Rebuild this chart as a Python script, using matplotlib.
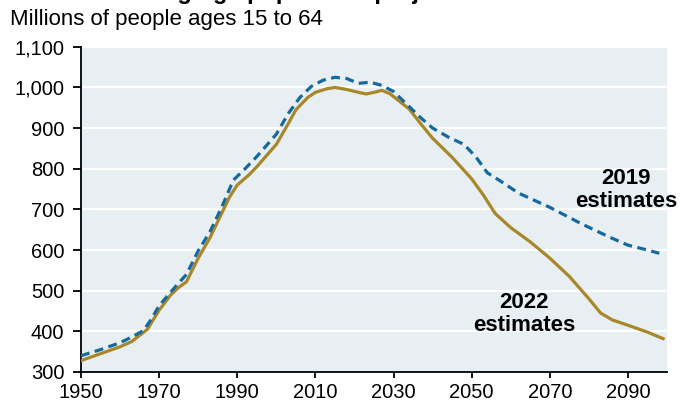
import matplotlib.pyplot as plt
import matplotlib.ticker as mticker

plt.rcParams['font.family'] = ['Liberation Sans', 'DejaVu Sans']

# 2022 estimates (millions, ages 15-64)
years22 = [1950, 1955, 1960, 1963, 1965, 1967, 1970, 1973, 1975, 1977, 1980, 1983, 1985, 1988,
           1990, 1993, 1995, 2000, 2003, 2005, 2008, 2010, 2013, 2015, 2018, 2021, 2023, 2025,
           2027, 2029, 2031, 2034, 2037, 2040, 2045, 2050, 2053, 2056, 2060, 2065, 2070, 2075,
           2080, 2083, 2086, 2090, 2095, 2099]
est22 = [328, 345, 362, 375, 390, 405, 452, 490, 508, 522, 580, 630, 670, 730,
         760, 785, 805, 860, 910, 945, 975, 988, 997, 1000, 995, 988, 984, 988,
         993, 985, 970, 947, 910, 875, 828, 775, 735, 690, 655, 620, 580, 535,
         480, 445, 428, 415, 398, 382]

# 2019 estimates
years19 = [1950, 1955, 1960, 1963, 1966, 1968, 1970, 1974, 1977, 1980, 1983, 1986, 1989, 1992,
           1995, 2000, 2003, 2006, 2009, 2012, 2015, 2018, 2021, 2024, 2027, 2030, 2034, 2037,
           2040, 2044, 2048, 2051, 2054, 2057, 2062, 2070, 2078, 2085, 2090, 2095, 2098]
est19 = [340, 355, 372, 386, 402, 430, 463, 508, 540, 598, 645, 705, 772, 800,
         830, 885, 935, 975, 1003, 1018, 1025, 1022, 1010, 1013, 1005, 990, 953, 925,
         900, 878, 860, 830, 790, 772, 740, 705, 665, 633, 612, 600, 592]

xticks = [1950, 1970, 1990, 2010, 2030, 2050, 2070, 2090]
yticks = [300, 400, 500, 600, 700, 800, 900, 1000, 1100]

gold = '#A8872B'
blue = '#17699B'

fig = plt.figure(figsize=(6.92, 4.07), dpi=100)
ax = fig.add_axes([0.117, 0.086, 0.847, 0.799])
ax.set_facecolor('#E7EFF2')

ax.plot(years22, est22, color=gold, lw=2.3, solid_joinstyle='round', zorder=3)
ax.plot(years19, est19, color=blue, lw=2.3, dashes=(2.8, 1.7), zorder=4)

ax.set_xlim(1950, 2100)
ax.set_ylim(300, 1100)
ax.set_xticks(xticks)
ax.set_yticks(yticks)
ax.yaxis.set_major_formatter(mticker.StrMethodFormatter('{x:,.0f}'))
ax.tick_params(labelsize=14.5, length=6, width=1.3, direction='out')
ax.tick_params(axis='y', pad=6)
ax.tick_params(axis='x', length=4, pad=4)
ax.yaxis.grid(True, color='white', lw=1.6)
ax.set_axisbelow(True)
for s in ['top', 'right']:
    ax.spines[s].set_visible(False)
for s in ['left', 'bottom']:
    ax.spines[s].set_linewidth(1.3)

ax.text(2089.5, 748, '2019\nestimates', ha='center', va='center', fontsize=16,
        fontweight='bold', linespacing=1.15)
ax.text(2063.5, 442, '2022\nestimates', ha='center', va='center', fontsize=16,
        fontweight='bold', linespacing=1.15)

fig.text(0.014, 1.003, "China's working-age population projections", fontsize=17,
         fontweight='bold', va='baseline', ha='left')
fig.text(0.014, 0.951, 'Millions of people ages 15 to 64', fontsize=16, va='center', ha='left')

fig.savefig('out.png', dpi=100)
